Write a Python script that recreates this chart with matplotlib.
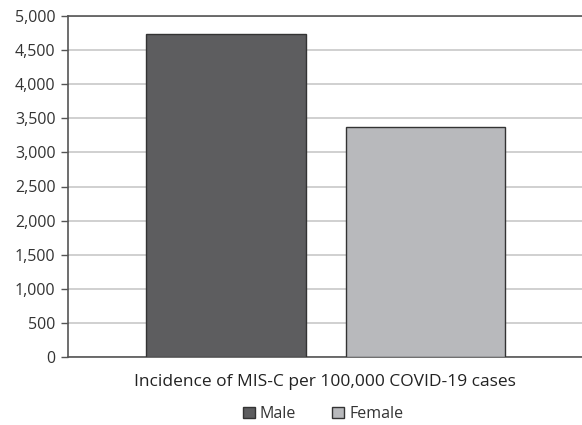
import matplotlib.pyplot as plt
from matplotlib.ticker import FuncFormatter
from matplotlib.patches import Patch

# Data
series = ['Male', 'Female']
values = [4735, 3370]
colors = ['#5d5d5f', '#b8b9bc']
category = 'Incidence of MIS-C per 100,000 COVID-19 cases'

plt.rcParams['font.family'] = ['Open Sans', 'DejaVu Sans']

fig = plt.figure(figsize=(5.82, 4.25), dpi=100)
ax = fig.add_axes([68 / 582, 1 - 357 / 425, 1 - 68 / 582, 341 / 425])

offsets = [-0.385, 0.39]
width = 0.62
for off, v, c in zip(offsets, values, colors):
    ax.bar(off, v, width=width, color=c, edgecolor='#333333', linewidth=1.0, zorder=3)

ax.set_xlim(-1, 1)
ax.set_ylim(0, 5000)
ax.set_yticks(range(0, 5001, 500))
ax.yaxis.set_major_formatter(FuncFormatter(lambda v, p: f'{int(v):,}'))
ax.set_xticks([])
ax.grid(axis='y', color='#c8c8c8', linewidth=1.2, zorder=0)

for s in ['top', 'left', 'bottom']:
    ax.spines[s].set_color('#555555')
    ax.spines[s].set_linewidth(1.2)
ax.spines['right'].set_visible(False)
ax.tick_params(axis='y', length=5, width=1, color='#555555', labelcolor='#333333', labelsize=11.5, pad=4)

ax.set_xlabel(category, fontsize=12.5, color='#222222', labelpad=12)

handles = [Patch(facecolor=c, edgecolor='#333333', label=s) for s, c in zip(series, colors)]
fig.legend(handles=handles, loc='center', bbox_to_anchor=(323 / 582, 1 - 414 / 425),
           ncol=2, frameon=False, fontsize=11.5, handlelength=0.75, handleheight=0.75,
           handletextpad=0.3, columnspacing=2.3, labelcolor='#333333')

plt.savefig('out.png', dpi=100)
